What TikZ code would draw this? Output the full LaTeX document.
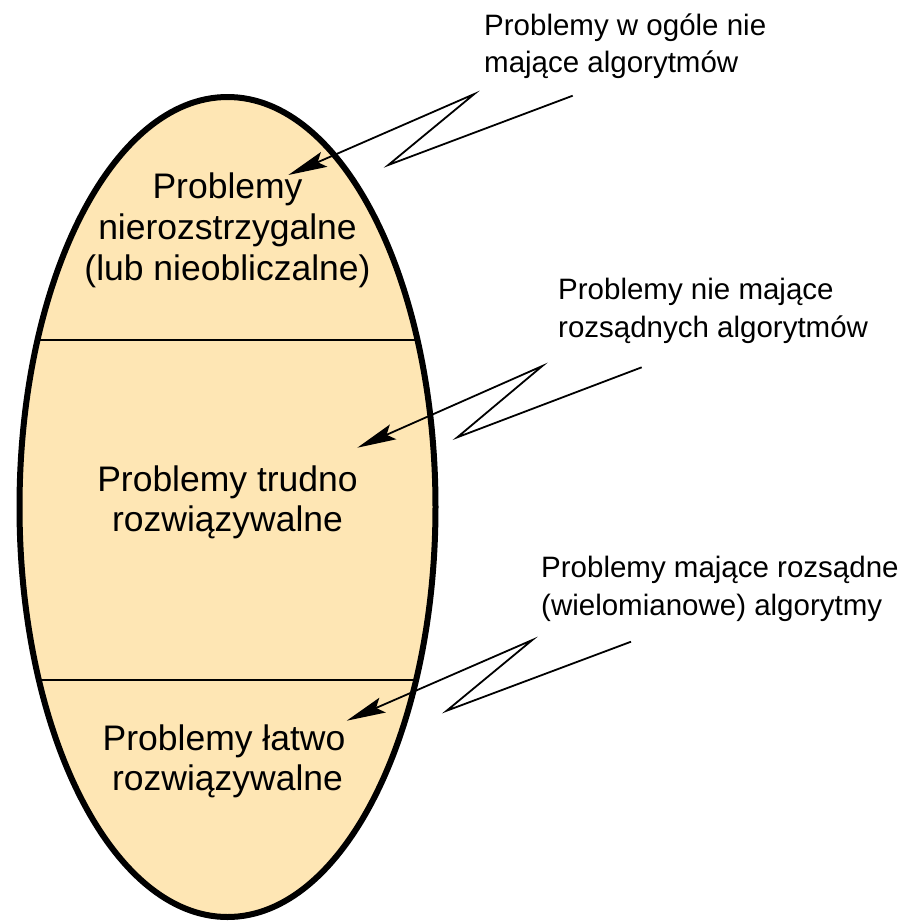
\documentclass[tikz,border=0pt]{standalone}
\usepackage{fontspec}
\setmainfont{Liberation Sans}
\usetikzlibrary{arrows.meta}
\definecolor{peach}{RGB}{254,230,180}
\tikzset{
  inner/.style={font=\fontsize{35.5}{41}\selectfont, anchor=base, inner sep=0pt},
  outer/.style={font=\fontsize{29.5}{38}\selectfont, anchor=base west, inner sep=0pt},
  bolt/.style={line width=1.8pt, line join=miter, -{Stealth[length=39pt, width=16pt, inset=7pt]}},
  divider/.style={line width=1.4pt}
}
\begin{document}
\begin{tikzpicture}[x=1pt, y=-1pt]
  \useasboundingbox (0,0) rectangle (907,922);
  % the set of all problems
  \coordinate (c) at (227.5,507);
  \fill[peach] (c) ellipse [x radius=208, y radius=410];
  \begin{scope}
    \clip (c) ellipse [x radius=208, y radius=410];
    \draw[divider] (0,340) -- (460,340);
    \draw[divider] (0,680) -- (460,680);
  \end{scope}
  \draw[line width=6pt] (c) ellipse [x radius=208, y radius=410];

  % classes inside the ellipse
  \node[inner] (u1) at (227.5,198) {Problemy};
  \node[inner] (u2) at (227.5,239) {nierozstrzygalne};
  \node[inner] (u3) at (227.5,280) {(lub nieobliczalne)};
  \node[inner] (h1) at (227.5,491) {Problemy trudno};
  \node[inner] (h2) at (227.5,531) {rozwiązywalne};
  \node[inner] (e1) at (224,750) {Problemy łatwo};
  \node[inner] (e2) at (227.5,790) {rozwiązywalne};

  % descriptions on the right
  \node[outer] (d1) at (484,35) {Problemy w ogóle nie};
  \node[outer] (d2) at (484,72) {mające algorytmów};
  \node[outer] (m1) at (558,299) {Problemy nie mające};
  \node[outer] (m2) at (558,337) {rozsądnych algorytmów};
  \node[outer] (p1) at (541,577) {Problemy mające rozsądne};
  \node[outer] (p2) at (541,615) {(wielomianowe) algorytmy};

  % lightning arrows
  \coordinate (a0) at (572.7,95.7);
  \coordinate (a1) at (388.3,165);
  \coordinate (a2) at (474.3,94);
  \coordinate (a3) at (288.3,175);
  \draw[bolt] (a0) -- (a1) -- (a2) -- (a3);

  \coordinate (b0) at (641.7,367.3);
  \coordinate (b1) at (457.3,437.3);
  \coordinate (b2) at (542.3,366);
  \coordinate (b3) at (357.3,447.7);
  \draw[bolt] (b0) -- (b1) -- (b2) -- (b3);

  \coordinate (k0) at (631,641.7);
  \coordinate (k1) at (446.7,710.7);
  \coordinate (k2) at (532.3,640);
  \coordinate (k3) at (346.7,720.7);
  \draw[bolt] (k0) -- (k1) -- (k2) -- (k3);
\end{tikzpicture}
\end{document}
